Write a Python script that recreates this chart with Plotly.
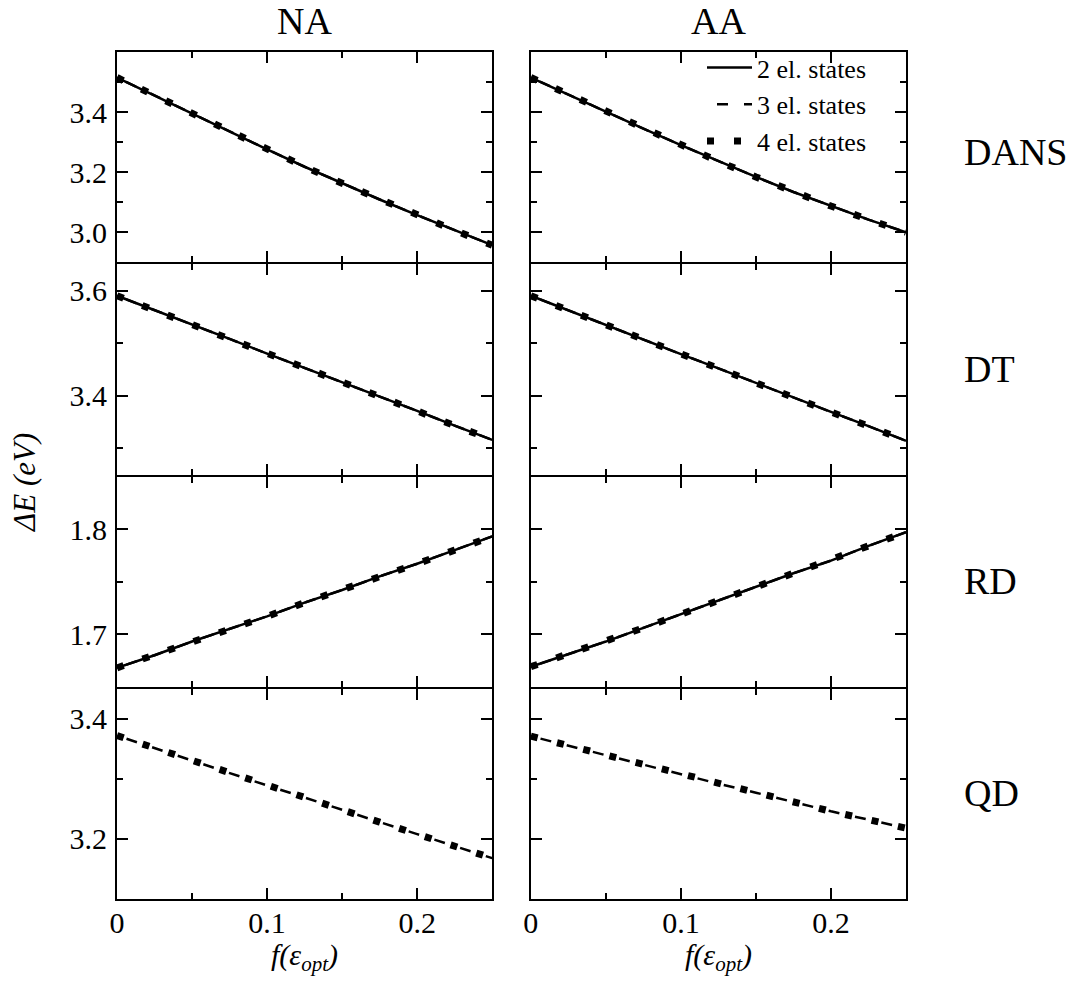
import plotly.graph_objects as go
from plotly.subplots import make_subplots

# ---------------- data ----------------
F_OPT = [0, 0.025, 0.05, 0.075, 0.1, 0.125, 0.15, 0.175, 0.2, 0.225, 0.25]

COLUMNS = ["NA", "AA"]
MOLECULES = ["DANS", "DT", "RD", "QD"]
STATES = ["2 el. states", "3 el. states", "4 el. states"]

NA_DANS = [3.515, 3.455, 3.394, 3.334, 3.276, 3.218, 3.163, 3.109, 3.057, 3.006, 2.957]
AA_DANS = [3.515, 3.458, 3.401, 3.345, 3.290, 3.236, 3.184, 3.134, 3.087, 3.042, 3.000]
NA_DT = [3.590, 3.563, 3.535, 3.508, 3.480, 3.453, 3.426, 3.398, 3.371, 3.343, 3.316]
AA_DT = [3.590, 3.562, 3.535, 3.507, 3.479, 3.452, 3.424, 3.397, 3.369, 3.342, 3.314]
NA_RD = [1.668, 1.680, 1.693, 1.705, 1.717, 1.730, 1.742, 1.755, 1.767, 1.780, 1.793]
AA_RD = [1.669, 1.681, 1.693, 1.706, 1.719, 1.732, 1.745, 1.758, 1.770, 1.784, 1.797]
NA_QD = [3.372, 3.351, 3.331, 3.310, 3.289, 3.269, 3.248, 3.228, 3.208, 3.188, 3.168]
AA_QD = [3.371, 3.355, 3.340, 3.324, 3.308, 3.292, 3.277, 3.261, 3.246, 3.232, 3.218]

# which states were computed for each dye (QD needs at least 3 states)
STATES_AVAILABLE = {
    "DANS": STATES,
    "DT": STATES,
    "RD": STATES,
    "QD": ["3 el. states", "4 el. states"],
}

DATA = {
    ("NA", "DANS"): NA_DANS, ("AA", "DANS"): AA_DANS,
    ("NA", "DT"): NA_DT, ("AA", "DT"): AA_DT,
    ("NA", "RD"): NA_RD, ("AA", "RD"): AA_RD,
    ("NA", "QD"): NA_QD, ("AA", "QD"): AA_QD,
}

Y_RANGE = {"DANS": [2.9, 3.6], "DT": [3.25, 3.65], "RD": [1.65, 1.85], "QD": [3.1, 3.45]}
Y_TICKS = {"DANS": [3.0, 3.2, 3.4], "DT": [3.4, 3.6], "RD": [1.7, 1.8], "QD": [3.2, 3.4]}
Y_MINOR = {"DANS": [3.1, 3.3, 3.5], "DT": [3.3, 3.5], "RD": [1.75], "QD": [3.3]}
X_TICKS = [0, 0.1, 0.2]
X_TICKTEXT = ["0", "0.1", "0.2"]
X_MINOR = [0.05, 0.15]

# ---------------- styling ----------------
FONT = "Liberation Serif, Times New Roman, Times, serif"
LINE_STYLE = {
    "2 el. states": dict(color="black", width=2.5, dash="solid"),
    "3 el. states": dict(color="black", width=2.5, dash="0px,10px,11px,6px"),
    "4 el. states": dict(color="black", width=7, dash="7px,20px"),
}
RANK = {"2 el. states": 1, "3 el. states": 2, "4 el. states": 3}

ML, MR, MT, MB = 117, 171, 52, 89
W, H = 1077, 988
PW, PH = W - ML - MR, H - MT - MB

fig = make_subplots(rows=4, cols=2, horizontal_spacing=0.049, vertical_spacing=2 / PH)

legend_done = set()
for r, mol in enumerate(MOLECULES, start=1):
    for c, col in enumerate(COLUMNS, start=1):
        yvals = DATA[(col, mol)]
        for st in STATES_AVAILABLE[mol]:
            show = st not in legend_done
            legend_done.add(st)
            fig.add_trace(
                go.Scatter(
                    x=F_OPT, y=yvals, mode="lines", name=st,
                    line=LINE_STYLE[st], showlegend=show, legendrank=RANK[st],
                    hoverinfo="skip",
                ),
                row=r, col=c,
            )
        fig.update_xaxes(
            range=[0, 0.25], showline=True, linewidth=2, linecolor="black", mirror="ticks",
            ticks="inside", ticklen=11, tickwidth=2, tickcolor="black",
            tickmode="array", tickvals=X_TICKS, ticktext=X_TICKTEXT,
            showticklabels=(r == 4), ticklabelstandoff=-4,
            minor=dict(tickmode="array", tickvals=X_MINOR, ticks="inside", ticklen=6, tickwidth=2, tickcolor="black"),
            showgrid=False, zeroline=False,
            tickfont=dict(family=FONT, size=30, color="black"),
            row=r, col=c,
        )
        fig.update_yaxes(
            range=Y_RANGE[mol], showline=True, linewidth=2, linecolor="black", mirror="ticks",
            ticks="inside", ticklen=11, tickwidth=2, tickcolor="black",
            tickmode="array", tickvals=Y_TICKS[mol], ticktext=[f"{v:.1f}" for v in Y_TICKS[mol]],
            showticklabels=(c == 1), ticklabelstandoff=2,
            minor=dict(tickmode="array", tickvals=Y_MINOR[mol], ticks="inside", ticklen=6, tickwidth=2, tickcolor="black"),
            showgrid=False, zeroline=False,
            tickfont=dict(family=FONT, size=30, color="black"),
            row=r, col=c,
        )


def px_x(px):
    return (px - ML) / PW


def px_y(py):
    return 1 - (py - MT) / PH


annotations = []
# column headers and x-axis titles
for i, col in enumerate(COLUMNS):
    dom = fig.layout["xaxis" if i == 0 else "xaxis2"].domain
    cx = (dom[0] + dom[1]) / 2
    annotations.append(dict(text=col, x=cx, y=px_y(21), xref="paper", yref="paper",
                            xanchor="center", yanchor="middle", showarrow=False, borderpad=0,
                            font=dict(family=FONT, size=38, color="black")))
    annotations.append(dict(text="<i>f(ε<sub>opt</sub>)</i>", x=cx, y=px_y(957), xref="paper", yref="paper",
                            xanchor="center", yanchor="middle", showarrow=False,
                            font=dict(family=FONT, size=30, color="black")))
# row labels
ROW_LABEL_Y = {"DANS": 152, "DT": 369, "RD": 581, "QD": 793}
for mol in MOLECULES:
    annotations.append(dict(text=mol, x=px_x(962), y=px_y(ROW_LABEL_Y[mol]), xref="paper", yref="paper",
                            xanchor="left", yanchor="middle", showarrow=False,
                            font=dict(family=FONT, size=38, color="black")))
# y-axis title
annotations.append(dict(text="<i>ΔE (eV)</i>", x=px_x(24), y=px_y(483), xref="paper", yref="paper",
                        xanchor="center", yanchor="middle", textangle=-90, showarrow=False,
                        font=dict(family=FONT, size=31, color="black")))

fig.update_layout(
    width=W, height=H,
    margin=dict(l=ML, r=MR, t=MT, b=MB, autoexpand=False),
    paper_bgcolor="white", plot_bgcolor="white",
    annotations=annotations,
    showlegend=True,
    legend=dict(x=px_x(702), y=px_y(44), xanchor="left", yanchor="top",
                bgcolor="rgba(0,0,0,0)", borderwidth=0, itemwidth=45,
                font=dict(family=FONT, size=26, color="black"), tracegroupgap=0),
    font=dict(family=FONT, color="black"),
)

fig.write_html("out.html", config={"displayModeBar": False},
               post_script="document.body.style.margin='0px';")
